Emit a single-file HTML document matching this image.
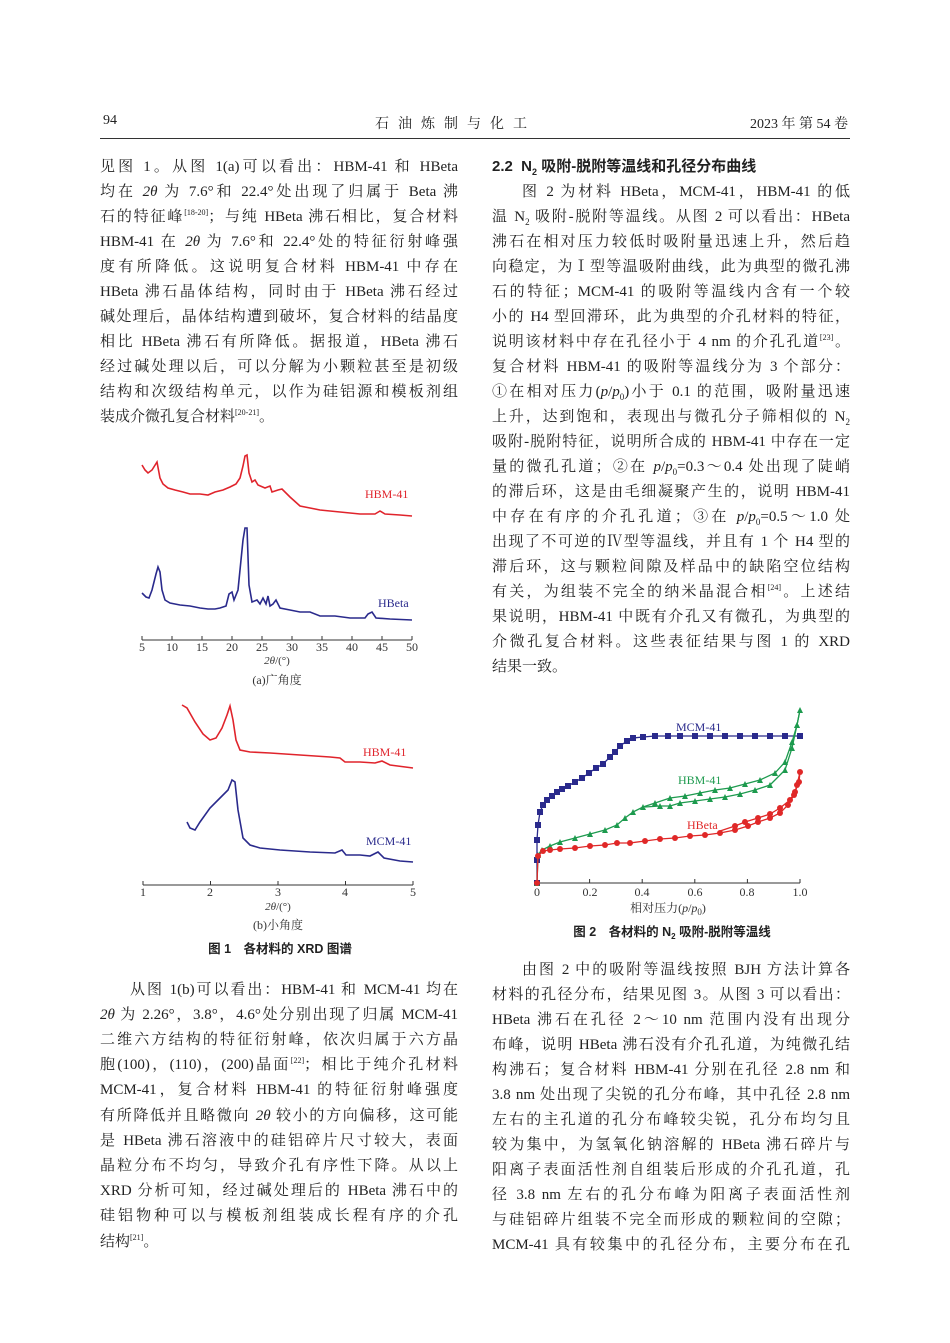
<!DOCTYPE html>
<html><head><meta charset="utf-8">
<style>
body{margin:0;background:#fff;}
#p{position:relative;width:950px;height:1343px;overflow:hidden;font-family:"Liberation Serif","Noto Serif CJK SC",serif;color:#222;font-size:15px;}
.l{position:absolute;width:358px;height:24px;line-height:24px;white-space:nowrap;text-align:justify;text-align-last:justify;}
.L{left:100px}.R{left:492px}
.n{text-align-last:left}
.i{padding-left:30px;width:328px}
sup{font-size:8px;vertical-align:6px;line-height:0}
sub{font-size:9px;line-height:0}
.hd{position:absolute;top:113px;font-size:14px;}
svg{position:absolute;left:0;top:0}
</style></head><body><div id="p">
<div class="hd" style="left:103px">94</div>
<div class="hd" style="left:375px;letter-spacing:9px">石油炼制与化工</div>
<div class="hd" style="left:750px">2023 年 第 54 卷</div>
<div style="position:absolute;left:100px;top:138px;width:750px;border-top:1px solid #333"></div>

<div class="l L" style="top:155px">见图 1。从图 1(a)可以看出：HBM-41 和 HBeta</div>
<div class="l L" style="top:180px">均在 <i>2θ</i> 为 7.6°和 22.4°处出现了归属于 Beta 沸</div>
<div class="l L" style="top:205px">石的特征峰<sup>[18-20]</sup>；与纯 HBeta 沸石相比，复合材料</div>
<div class="l L" style="top:230px">HBM-41 在 <i>2θ</i> 为 7.6°和 22.4°处的特征衍射峰强</div>
<div class="l L" style="top:255px">度有所降低。这说明复合材料 HBM-41 中存在</div>
<div class="l L" style="top:280px">HBeta 沸石晶体结构，同时由于 HBeta 沸石经过</div>
<div class="l L" style="top:305px">碱处理后，晶体结构遭到破坏，复合材料的结晶度</div>
<div class="l L" style="top:330px">相比 HBeta 沸石有所降低。据报道，HBeta 沸石</div>
<div class="l L" style="top:355px">经过碱处理以后，可以分解为小颗粒甚至是初级</div>
<div class="l L" style="top:380px">结构和次级结构单元，以作为硅铝源和模板剂组</div>
<div class="l L n" style="top:405px">装成介微孔复合材料<sup>[20-21]</sup>。</div>

<div class="l L i" style="top:978px">从图 1(b)可以看出：HBM-41 和 MCM-41 均在</div>
<div class="l L" style="top:1003px"><i>2θ</i> 为 2.26°，3.8°，4.6°处分别出现了归属 MCM-41</div>
<div class="l L" style="top:1028px">二维六方结构的特征衍射峰，依次归属于六方晶</div>
<div class="l L" style="top:1053px">胞(100)，(110)，(200)晶面<sup>[22]</sup>；相比于纯介孔材料</div>
<div class="l L" style="top:1078px">MCM-41，复合材料 HBM-41 的特征衍射峰强度</div>
<div class="l L" style="top:1104px">有所降低并且略微向 <i>2θ</i> 较小的方向偏移，这可能</div>
<div class="l L" style="top:1129px">是 HBeta 沸石溶液中的硅铝碎片尺寸较大，表面</div>
<div class="l L" style="top:1154px">晶粒分布不均匀，导致介孔有序性下降。从以上</div>
<div class="l L" style="top:1179px">XRD 分析可知，经过碱处理后的 HBeta 沸石中的</div>
<div class="l L" style="top:1204px">硅铝物种可以与模板剂组装成长程有序的介孔</div>
<div class="l L n" style="top:1230px">结构<sup>[21]</sup>。</div>

<div class="l R n" style="top:155px;font-weight:bold;font-family:'Liberation Sans','Noto Sans CJK SC',sans-serif">2.2&nbsp; N<sub>2</sub> 吸附-脱附等温线和孔径分布曲线</div>
<div class="l R i" style="top:180px">图 2 为材料 HBeta，MCM-41，HBM-41 的低</div>
<div class="l R" style="top:205px">温 N<sub>2</sub> 吸附-脱附等温线。从图 2 可以看出：HBeta</div>
<div class="l R" style="top:230px">沸石在相对压力较低时吸附量迅速上升，然后趋</div>
<div class="l R" style="top:255px">向稳定，为Ⅰ型等温吸附曲线，此为典型的微孔沸</div>
<div class="l R" style="top:280px">石的特征；MCM-41 的吸附等温线内含有一个较</div>
<div class="l R" style="top:305px">小的 H4 型回滞环，此为典型的介孔材料的特征，</div>
<div class="l R" style="top:330px">说明该材料中存在孔径小于 4 nm 的介孔孔道<sup>[23]</sup>。</div>
<div class="l R" style="top:355px">复合材料 HBM-41 的吸附等温线分为 3 个部分：</div>
<div class="l R" style="top:380px">①在相对压力(<i>p</i>/<i>p</i><sub>0</sub>)小于 0.1 的范围，吸附量迅速</div>
<div class="l R" style="top:405px">上升，达到饱和，表现出与微孔分子筛相似的 N<sub>2</sub></div>
<div class="l R" style="top:430px">吸附-脱附特征，说明所合成的 HBM-41 中存在一定</div>
<div class="l R" style="top:455px">量的微孔孔道；②在 <i>p</i>/<i>p</i><sub>0</sub>=0.3～0.4 处出现了陡峭</div>
<div class="l R" style="top:480px">的滞后环，这是由毛细凝聚产生的，说明 HBM-41</div>
<div class="l R" style="top:505px">中存在有序的介孔孔道；③在 <i>p</i>/<i>p</i><sub>0</sub>=0.5～1.0 处</div>
<div class="l R" style="top:530px">出现了不可逆的Ⅳ型等温线，并且有 1 个 H4 型的</div>
<div class="l R" style="top:555px">滞后环，这与颗粒间隙及样品中的缺陷空位结构</div>
<div class="l R" style="top:580px">有关，为组装不完全的纳米晶混合相<sup>[24]</sup>。上述结</div>
<div class="l R" style="top:605px">果说明，HBM-41 中既有介孔又有微孔，为典型的</div>
<div class="l R" style="top:630px">介微孔复合材料。这些表征结果与图 1 的 XRD</div>
<div class="l R n" style="top:655px">结果一致。</div>

<div class="l R i" style="top:958px">由图 2 中的吸附等温线按照 BJH 方法计算各</div>
<div class="l R" style="top:983px">材料的孔径分布，结果见图 3。从图 3 可以看出：</div>
<div class="l R" style="top:1008px">HBeta 沸石在孔径 2～10 nm 范围内没有出现分</div>
<div class="l R" style="top:1033px">布峰，说明 HBeta 沸石没有介孔孔道，为纯微孔结</div>
<div class="l R" style="top:1058px">构沸石；复合材料 HBM-41 分别在孔径 2.8 nm 和</div>
<div class="l R" style="top:1083px">3.8 nm 处出现了尖锐的孔分布峰，其中孔径 2.8 nm</div>
<div class="l R" style="top:1108px">左右的主孔道的孔分布峰较尖锐，孔分布均匀且</div>
<div class="l R" style="top:1133px">较为集中，为氢氧化钠溶解的 HBeta 沸石碎片与</div>
<div class="l R" style="top:1158px">阳离子表面活性剂自组装后形成的介孔孔道，孔</div>
<div class="l R" style="top:1183px">径 3.8 nm 左右的孔分布峰为阳离子表面活性剂</div>
<div class="l R" style="top:1208px">与硅铝碎片组装不完全而形成的颗粒间的空隙；</div>
<div class="l R" style="top:1233px">MCM-41 具有较集中的孔径分布，主要分布在孔</div>

<svg width="950" height="1343" font-family="Liberation Serif, Noto Serif CJK SC, serif">
<defs>
<marker id="sq" markerWidth="6" markerHeight="6" refX="3" refY="3" markerUnits="userSpaceOnUse"><rect width="6" height="6" fill="#2a2a8c"/></marker>
<marker id="tr" markerWidth="6" markerHeight="6" refX="3" refY="3" markerUnits="userSpaceOnUse"><path d="M3 0L6 6H0Z" fill="#1d9a4e"/></marker>
<marker id="ci" markerWidth="6" markerHeight="6" refX="3" refY="3" markerUnits="userSpaceOnUse"><circle cx="3" cy="3" r="3" fill="#e02828"/></marker>
</defs>
<!-- Fig 1a -->
<g fill="none" stroke-width="1.6">
<polyline stroke="#e0242c" points="142,465 145,470 148,473 152,470 157,462 160,478 163,484 168,488 175,490 183,492 190,494 200,494 208,495 215,492 223,490 230,487 236,484 240,478 243,466 245,456 247,455 249,473 252,482 255,480 258,485 265,488 270,486 272,492 278,490 282,489 290,497 300,506 310,508 320,510 340,512 360,514 375,514 380,511 385,514 400,515 412,516"/>
<polyline stroke="#2a2a8c" points="142,593 146,597 149,598 152,590 156,574 158,567 160,572 162,590 165,600 170,603 180,605 190,606 200,608 208,609 215,609 220,608 226,606 229,594 232,592 234,600 238,590 243,540 245,528 247,528 249,585 252,602 257,600 260,604 263,598 266,604 268,596 270,606 273,604 276,600 280,608 290,610 300,612 310,612 320,616 335,616 350,618 365,618 368,614 372,612 376,618 390,619 412,620"/>
</g>
<line x1="142" y1="640" x2="412" y2="640" stroke="#333"/>
<g stroke="#333"><line x1="142" y1="636" x2="142" y2="640"/><line x1="172" y1="636" x2="172" y2="640"/><line x1="202" y1="636" x2="202" y2="640"/><line x1="232" y1="636" x2="232" y2="640"/><line x1="262" y1="636" x2="262" y2="640"/><line x1="292" y1="636" x2="292" y2="640"/><line x1="322" y1="636" x2="322" y2="640"/><line x1="352" y1="636" x2="352" y2="640"/><line x1="382" y1="636" x2="382" y2="640"/><line x1="412" y1="636" x2="412" y2="640"/></g>
<g font-size="12" fill="#333" text-anchor="middle"><text x="142" y="651">5</text><text x="172" y="651">10</text><text x="202" y="651">15</text><text x="232" y="651">20</text><text x="262" y="651">25</text><text x="292" y="651">30</text><text x="322" y="651">35</text><text x="352" y="651">40</text><text x="382" y="651">45</text><text x="412" y="651">50</text>
<text x="277" y="664" font-size="11"><tspan font-style="italic">2θ</tspan>/(°)</text>
<text x="277" y="684" font-size="12">(a)广角度</text></g>
<text x="365" y="498" font-size="12" fill="#e0242c">HBM-41</text>
<text x="378" y="607" font-size="12" fill="#2a2a8c">HBeta</text>
<!-- Fig 1b -->
<g fill="none" stroke-width="1.6">
<polyline stroke="#e0242c" points="182,705 187,708 195,722 203,734 210,740 216,738 222,728 227,715 230,706 233,720 236,740 240,750 250,752 270,753 300,755 330,757 340,758 345,762 350,762 360,762 375,763 382,761 390,765 413,768"/>
<polyline stroke="#2a2a8c" points="187,822 190,828 195,830 200,822 210,808 220,798 228,790 232,780 235,782 238,810 243,838 250,845 260,848 280,850 310,852 335,853 342,850 346,855 360,855 370,856 378,852 384,858 400,861 413,862"/>
</g>
<line x1="143" y1="885" x2="413" y2="885" stroke="#333"/>
<g stroke="#333"><line x1="143" y1="881" x2="143" y2="885"/><line x1="210.5" y1="881" x2="210.5" y2="885"/><line x1="278" y1="881" x2="278" y2="885"/><line x1="345.5" y1="881" x2="345.5" y2="885"/><line x1="413" y1="881" x2="413" y2="885"/></g>
<g font-size="12" fill="#333" text-anchor="middle"><text x="143" y="896">1</text><text x="210" y="896">2</text><text x="278" y="896">3</text><text x="345" y="896">4</text><text x="413" y="896">5</text>
<text x="278" y="910" font-size="11"><tspan font-style="italic">2θ</tspan>/(°)</text>
<text x="278" y="929" font-size="12">(b)小角度</text></g>
<text x="363" y="756" font-size="12" fill="#e0242c">HBM-41</text>
<text x="366" y="845" font-size="12" fill="#2a2a8c">MCM-41</text>
<text x="280" y="953" font-size="12.5" font-weight="bold" text-anchor="middle" font-family="Liberation Sans, Noto Sans CJK SC, sans-serif" fill="#222">图 1　各材料的 XRD 图谱</text>
<!-- Fig 2 -->
<line x1="537" y1="883" x2="800" y2="883" stroke="#333"/>
<g stroke="#333"><line x1="537" y1="879" x2="537" y2="883"/><line x1="589.6" y1="879" x2="589.6" y2="883"/><line x1="642.2" y1="879" x2="642.2" y2="883"/><line x1="694.8" y1="879" x2="694.8" y2="883"/><line x1="747.4" y1="879" x2="747.4" y2="883"/><line x1="800" y1="879" x2="800" y2="883"/></g>
<g font-size="12" fill="#333" text-anchor="middle"><text x="537" y="896">0</text><text x="590" y="896">0.2</text><text x="642" y="896">0.4</text><text x="695" y="896">0.6</text><text x="747" y="896">0.8</text><text x="800" y="896">1.0</text>
<text x="668" y="912">相对压力(<tspan font-style="italic">p</tspan>/<tspan font-style="italic">p</tspan><tspan font-size="9" dy="3">0</tspan><tspan dy="-3">)</tspan></text></g>
<g fill="none" stroke-width="1.3">
<polyline stroke="#2a2a8c" marker-start="url(#sq)" marker-mid="url(#sq)" marker-end="url(#sq)" points="537,883 537,860 537,840 538,825 540,812 543,805 547,800 552,796 557,792 562,789 568,786 575,782 582,778 589,773 596,768 603,764 610,757 615,752 620,746 627,741 633,738 643,737 655,736 668,736 680,736 695,736 710,736 725,736 740,736 755,736 770,736 785,736 800,736"/>
<polyline stroke="#1d9a4e" marker-start="url(#tr)" marker-mid="url(#tr)" marker-end="url(#tr)" points="537,883 538,855 542,850 550,846 560,842 575,838 590,834 605,830 617,825 625,818 633,812 643,807 655,803 670,798 685,796 700,793 715,790 730,788 745,784 760,780 775,773 785,762 792,742 797,725 800,710"/>
<polyline stroke="#1d9a4e" marker-mid="url(#tr)" points="800,710 797,725 792,748 785,770 770,785 755,790 740,794 725,797 710,799 695,801 680,803 670,806 660,806 645,807"/>
<polyline stroke="#e02828" marker-start="url(#ci)" marker-mid="url(#ci)" marker-end="url(#ci)" points="537,883 538,856 543,851 550,850 560,849 575,848 590,846 605,845 617,843 630,843 645,841 660,839 675,838 690,836 705,835 720,833 735,830 748,826 758,822 770,818 780,813 788,805 794,795 797,785 800,772"/>
<polyline stroke="#e02828" marker-mid="url(#ci)" points="800,772 799,782 795,792 790,800 780,808 770,814 758,818 745,822 735,826 720,831"/>
</g>
<text x="676" y="731" font-size="12" fill="#2a2a8c">MCM-41</text>
<text x="678" y="784" font-size="12" fill="#1d9a4e">HBM-41</text>
<text x="687" y="829" font-size="12" fill="#e02828">HBeta</text>
<text x="672" y="936" font-size="12.5" font-weight="bold" text-anchor="middle" font-family="Liberation Sans, Noto Sans CJK SC, sans-serif" fill="#222">图 2　各材料的 N<tspan font-size="8" dy="3">2</tspan><tspan dy="-3"> 吸附-脱附等温线</tspan></text>
</svg>
</div></body></html>
